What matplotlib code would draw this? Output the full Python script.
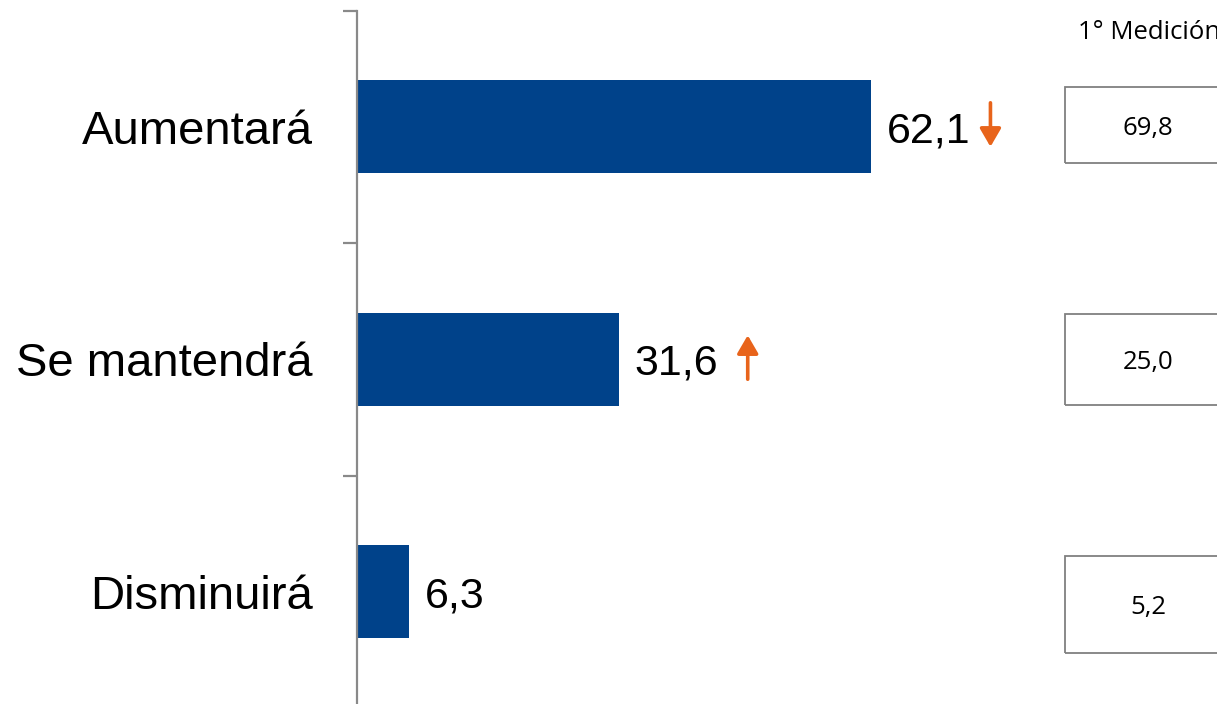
import matplotlib
matplotlib.use("Agg")
import matplotlib.pyplot as plt
from matplotlib.patches import Rectangle, FancyArrowPatch
from matplotlib.transforms import offset_copy

# ---- data ----
categories = ["Aumentará", "Se mantendrá", "Disminuirá"]
values = [62.1, 31.6, 6.3]
value_labels = ["62,1", "31,6", "6,3"]
trend = ["down", "up", None]
previous_labels = ["69,8", "25,0", "5,2"]
previous_title = "1° Medición"

BAR_COLOR = "#00428A"
ARROW_COLOR = "#E8641B"
AXIS_COLOR = "#898989"

W, H = 1217, 704
fig = plt.figure(figsize=(W / 100, H / 100), dpi=100)

# axes placement in pixels
ax_left, ax_right = 357, 1217
ax_top, ax_bot = 10.5, 708
ax = fig.add_axes([ax_left / W, 1 - ax_bot / H, (ax_right - ax_left) / W, (ax_bot - ax_top) / H])
ax.set_facecolor("none")

px_per_unit = 8.277
ax.set_xlim(0, (ax_right - ax_left) / px_per_unit)
ax.set_ylim(len(categories) - 0.5, -0.5)

ypos = list(range(len(categories)))
ax.barh(ypos, values, height=0.4, color=BAR_COLOR, zorder=2)

for s in ["top", "right", "bottom"]:
    ax.spines[s].set_visible(False)
ax.spines["left"].set_color(AXIS_COLOR)
ax.spines["left"].set_linewidth(1.6)
ax.xaxis.set_visible(False)

ax.set_yticks(ypos)
ax.set_yticklabels(categories, fontsize=34, family="Liberation Sans")
ax.tick_params(axis="y", which="major", length=0, pad=32)
ax.set_yticks([y - 0.5 for y in ypos] + [ypos[-1] + 0.5], minor=True)
ax.tick_params(axis="y", which="minor", length=10, width=1.6, color=AXIS_COLOR, direction="out")

# value labels
for y, v, lab in zip(ypos, values, value_labels):
    ax.annotate(lab, xy=(v, y), xytext=(11.5, 0), textcoords="offset points",
                ha="left", va="center_baseline", fontsize=31, family="Liberation Sans",
                color="black")

# trend arrows (positioned relative to the value label)
arrow_offsets = {0: 86, 1: 93}
for y, v, t in zip(ypos, values, trend):
    if t is None:
        continue
    tr = offset_copy(ax.transData, fig=fig, x=arrow_offsets[y], y=0, units="points")
    y_top, y_bot = y - 0.103, y + 0.086
    if t == "down":
        start, end = (v, y_top), (v, y_bot)
    else:
        start, end = (v, y_bot), (v, y_top)
    arr = FancyArrowPatch(start, end, transform=tr, arrowstyle="-|>,head_length=0.55,head_width=0.32",
                          mutation_scale=20, color=ARROW_COLOR, linewidth=2.6,
                          shrinkA=0, shrinkB=0, clip_on=False)
    ax.add_patch(arr)

# previous measurement boxes (figure pixel coordinates)
box_x0, box_x1 = 1065, 1231
box_tops = [87, 314, 556]
box_bots = [163, 405, 653]
for lab, t, b in zip(previous_labels, box_tops, box_bots):
    rect = Rectangle((box_x0 / W, 1 - b / H), (box_x1 - box_x0) / W, (b - t) / H,
                     transform=fig.transFigure, fill=False, edgecolor="#808080",
                     linewidth=1.3)
    fig.patches.append(rect)
    fig.text((box_x0 + box_x1) / 2 / W, 1 - ((t + b) / 2 + 3) / H, lab,
             ha="center", va="center", fontsize=18.5, family="Open Sans", color="black")

fig.text(1078 / W, 1 - 39 / H, previous_title, ha="left", va="baseline",
         fontsize=18.5, family="Open Sans", color="black")

fig.savefig("out.png", dpi=100)
